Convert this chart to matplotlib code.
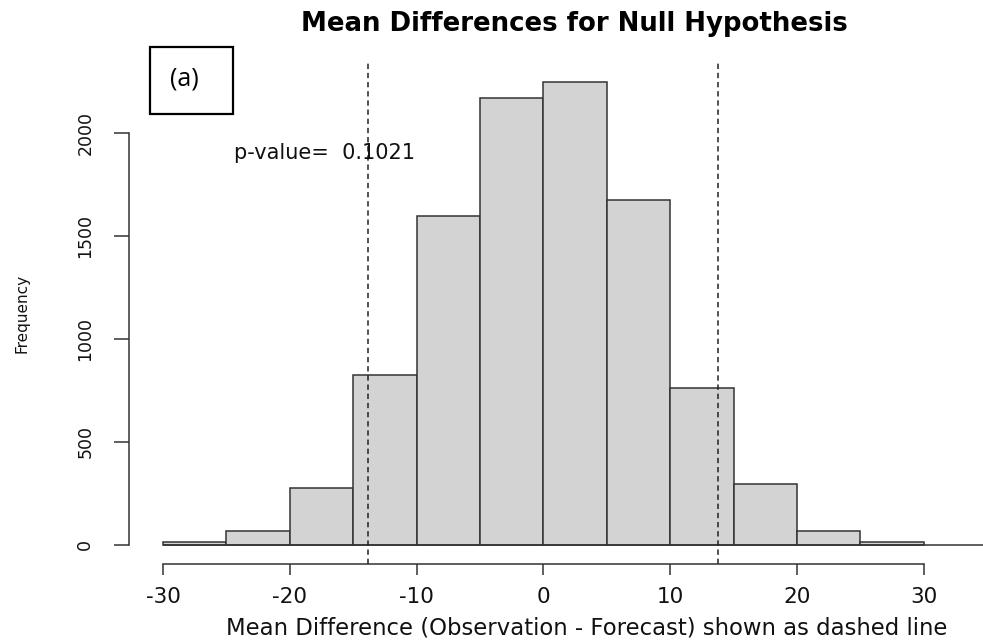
import matplotlib.pyplot as plt
import matplotlib.patches as mpatches
import numpy as np

plt.rcParams['axes.unicode_minus'] = False

# histogram of permuted mean differences (bin edges and counts)
bin_edges = [-30, -25, -20, -15, -10, -5, 0, 5, 10, 15, 20, 25, 30]
counts = [15, 68, 277, 825, 1597, 2170, 2248, 1675, 762, 296, 68, 15]
obs_diff = 13.8          # observed mean difference, drawn at +/-
p_value = 0.1021

y_ticks = [0, 500, 1000, 1500, 2000]
x_ticks = [-30, -20, -10, 0, 10, 20, 30]

W, H = 983, 641
fig = plt.figure(figsize=(W / 100, H / 100), dpi=100)
ax = fig.add_axes([129 / W, (H - 563.5) / H, 1 - 129 / W, (563.5 - 63) / H])

edges = np.array(bin_edges)
ax.bar(edges[:-1], counts, width=np.diff(edges), align='edge',
       color='#d3d3d3', edgecolor='#333333', linewidth=1.1)

xmax = 34.67
ax.set_xlim(-32.68, xmax)
ax.set_ylim(-90, 2340)
ax.hlines(0, edges[0], xmax, color='#333333', linewidth=1.1, clip_on=False)

for x in (-obs_diff, obs_diff):
    ax.axvline(x, color='#222222', linewidth=1.1, dashes=(3.5, 2.5))

for s in ('top', 'right'):
    ax.spines[s].set_visible(False)
ax.spines['left'].set_bounds(0, 2000)
ax.spines['bottom'].set_bounds(-30, 30)
for s in ('left', 'bottom'):
    ax.spines[s].set_linewidth(1.1)
    ax.spines[s].set_color('#333333')

ax.set_xticks(x_ticks)
ax.set_yticks(y_ticks)
ax.tick_params(axis='x', length=8, width=1.1, color='#333333', pad=9,
               labelsize=15.5, labelcolor='#111111')
ax.tick_params(axis='y', length=11, width=1.1, color='#333333', pad=14,
               labelsize=12.5, labelcolor='#111111', labelrotation=90)
for lab in ax.get_yticklabels():
    lab.set_verticalalignment('center')

ax.text(-24.4, 1903, 'p-value=  %.4f' % p_value, fontsize=15,
        va='center', ha='left', color='#111111')

fig.text(574 / W, 1 - 24 / H, 'Mean Differences for Null Hypothesis',
         fontsize=18.7, fontweight='bold', ha='center', va='center')
fig.text(587 / W, 1 - 628 / H,
         'Mean Difference (Observation - Forecast) shown as dashed line',
         fontsize=16.4, ha='center', va='center', color='#111111')
fig.text(22 / W, 1 - 313 / H, 'Frequency', fontsize=11, rotation=90,
         ha='center', va='center', color='#111111')

# panel label box
fig.patches.append(mpatches.Rectangle((150 / W, 1 - 114 / H), 83 / W, 67 / H,
                                      transform=fig.transFigure, fill=False,
                                      edgecolor='black', linewidth=1.6))
fig.text(184 / W, 1 - 79 / H, '(a)', fontsize=18, family='Open Sans',
         ha='center', va='center')

fig.savefig('out.png', dpi=100)
